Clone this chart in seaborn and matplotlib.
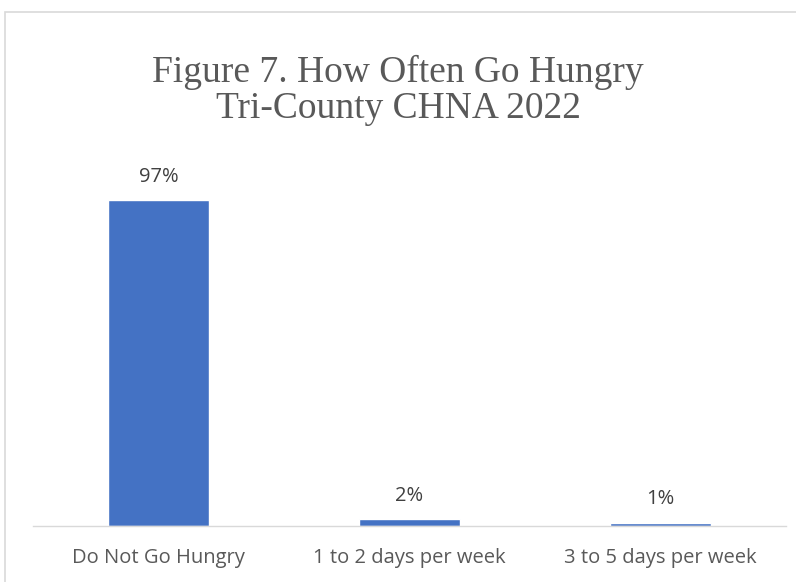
import matplotlib
matplotlib.use("Agg")
import matplotlib.pyplot as plt
import seaborn as sns
import pandas as pd
from matplotlib.patches import Rectangle

categories = ["Do Not Go Hungry", "1 to 2 days per week", "3 to 5 days per week"]
values = [97, 2, 1]
value_labels = ["97%", "2%", "1%"]
title_lines = ["Figure 7. How Often Go Hungry", "Tri-County CHNA 2022"]

sns.set_theme(style="white")
plt.rcParams['font.family'] = ['Open Sans', 'DejaVu Sans']

df = pd.DataFrame({"category": categories, "pct": values})

fig = plt.figure(figsize=(7.96, 5.82), dpi=100)
ax = fig.add_axes([33 / 796, 1 - 526 / 582, 753 / 796, (526 - 123) / 582])

sns.barplot(data=df, x="category", y="pct", color="#4472C4", width=0.4,
            saturation=1, ax=ax)
ax.set_ylim(0, 120)
ax.set_yticks([])
ax.set_xlabel("")
ax.set_ylabel("")
for s in ["top", "right", "left"]:
    ax.spines[s].set_visible(False)
ax.spines["bottom"].set_color("#D9D9D9")
ax.spines["bottom"].set_linewidth(1)
ax.tick_params(axis="x", length=0, pad=16, labelsize=14.5, colors="#595959")

for i, (v, lab) in enumerate(zip(values, value_labels)):
    ax.annotate(lab, (i, v), xytext=(0, 17), textcoords="offset points",
                ha="center", va="center", fontsize=14.5, color="#404040")

for k, line in enumerate(title_lines):
    fig.text(0.5, 1 - (72 + 37 * k) / 582, line,
             ha="center", va="center", fontsize=27, color="#595959",
             family=["Liberation Serif", "DejaVu Serif"])

fig.patches.append(Rectangle((5 / 796, -0.01), 1.0, 1 - 12 / 582 + 0.01,
                             transform=fig.transFigure, fill=False,
                             edgecolor="#D9D9D9", linewidth=1.2))

fig.savefig("out.png", dpi=100)
